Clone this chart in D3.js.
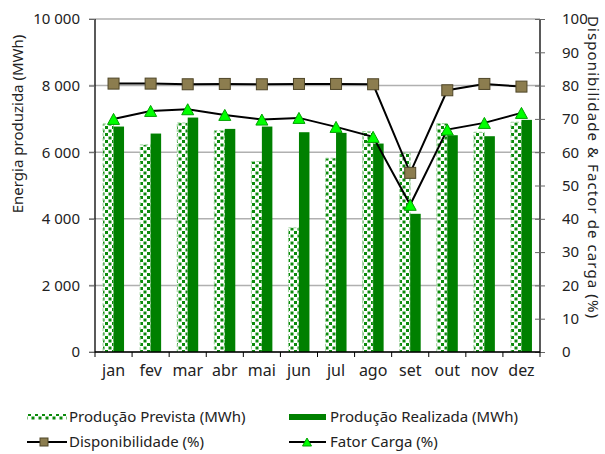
<!DOCTYPE html>
<html>
<head>
<meta charset="utf-8">
<script src="https://cdn.jsdelivr.net/npm/d3@7"></script>
<style>
  html, body { margin: 0; padding: 0; background: #fff; }
  svg { display: block; font-family: "Noto Sans", "Open Sans", sans-serif; }
</style>
</head>
<body>
<svg id="chart" width="605" height="454"></svg>
<script>
// Monthly energy data (MWh) and availability / load factor (%)
const months = ["jan", "fev", "mar", "abr", "mai", "jun", "jul", "ago", "set", "out", "nov", "dez"];
const producaoPrevista = [6850, 6220, 6880, 6650, 5720, 3730, 5820, 6620, 5980, 6860, 6600, 6900];
const producaoRealizada = [6770, 6560, 7040, 6700, 6770, 6600, 6580, 6260, 4150, 6510, 6480, 6970];
const disponibilidade = [80.6, 80.6, 80.4, 80.5, 80.4, 80.5, 80.5, 80.4, 53.8, 78.6, 80.5, 79.7];
const fatorCarga = [70.0, 72.4, 72.9, 71.2, 69.8, 70.3, 67.6, 64.6, 44.2, 66.8, 68.8, 71.8];
const leftTicks = [0, 2000, 4000, 6000, 8000, 10000];
const rightTicks = [0, 10, 20, 30, 40, 50, 60, 70, 80, 90, 100];

const svg = d3.select("#chart");
const plotLeft = 95, plotRight = 540, plotTop = 19, plotBottom = 352;

const fmt = d => d3.format(",")(d).replace(/,/g, " ");

const x = d3.scaleBand().domain(months).range([plotLeft, plotRight]).paddingInner(0).paddingOuter(0);
const yL = d3.scaleLinear().domain([0, 10000]).range([plotBottom, plotTop]);
const yR = d3.scaleLinear().domain([0, 100]).range([plotBottom, plotTop]);
const sub = d3.scaleBand().domain(["prev", "real"]).range([-10.5, 10.5]);

// dotted fill for the planned production bars
const defs = svg.append("defs");
const pat = defs.append("pattern").attr("id", "dots")
  .attr("patternUnits", "userSpaceOnUse").attr("width", 7).attr("height", 7);
pat.append("rect").attr("width", 7).attr("height", 7).attr("fill", "#fff");
pat.append("rect").attr("x", 0).attr("y", 0).attr("width", 3).attr("height", 3).attr("fill", "#0a8a0a");
pat.append("rect").attr("x", 3.5).attr("y", 3.5).attr("width", 3).attr("height", 3).attr("fill", "#0a8a0a");

// gridlines
svg.append("g").selectAll("line").data(leftTicks).join("line")
  .attr("x1", plotLeft - 6).attr("x2", plotRight)
  .attr("y1", d => yL(d)).attr("y2", d => yL(d))
  .attr("stroke", "#b0b0b0").attr("stroke-width", 1.5);

// bars
const bars = svg.append("g");
bars.selectAll("rect.prev").data(months).join("rect").attr("class", "prev")
  .attr("x", d => x(d) + x.bandwidth() / 2 + sub("prev"))
  .attr("width", sub.bandwidth())
  .attr("y", (d, i) => yL(producaoPrevista[i]))
  .attr("height", (d, i) => yL(0) - yL(producaoPrevista[i]))
  .attr("fill", "url(#dots)")
  .attr("stroke", "#9fd49f").attr("stroke-width", 1).attr("stroke-dasharray", "3,2");
bars.selectAll("rect.real").data(months).join("rect").attr("class", "real")
  .attr("x", d => x(d) + x.bandwidth() / 2 + sub("real"))
  .attr("width", sub.bandwidth())
  .attr("y", (d, i) => yL(producaoRealizada[i]))
  .attr("height", (d, i) => yL(0) - yL(producaoRealizada[i]))
  .attr("fill", "#008000");

// axes
const axisL = svg.append("g").attr("transform", `translate(${plotLeft},0)`)
  .call(d3.axisLeft(yL).tickValues(leftTicks).tickFormat(fmt).tickSize(6).tickPadding(9));
const axisR = svg.append("g").attr("transform", `translate(${plotRight},0)`)
  .call(d3.axisRight(yR).tickValues(rightTicks).tickSize(5).tickPadding(17));
axisR.selectAll(".tick line").attr("x1", -5);
const axisB = svg.append("g").attr("transform", `translate(0,${plotBottom})`)
  .call(d3.axisBottom(x).tickSize(0).tickPadding(13));
// boundary ticks on the category axis
axisB.append("g").selectAll("line").data(d3.range(months.length + 1)).join("line")
  .attr("x1", i => plotLeft + i * x.step()).attr("x2", i => plotLeft + i * x.step())
  .attr("y1", 0).attr("y2", 5).attr("stroke", "#000");

[axisL, axisR, axisB].forEach(a => {
  a.select(".domain").attr("stroke", "#000").attr("stroke-width", 1.3);
  a.selectAll(".tick line").attr("stroke", "#666");
  a.selectAll("text").attr("font-size", 15).attr("fill", "#222")
    .attr("font-family", "'Noto Sans', 'Open Sans', sans-serif");
});
axisB.selectAll("text").attr("font-size", 16);
axisL.select(".domain").attr("d", `M0,${plotTop}V${plotBottom}`);
axisR.select(".domain").attr("d", `M0,${plotTop}V${plotBottom}`);
axisB.select(".domain").attr("d", `M${plotLeft},0H${plotRight}`);

// lines
const line = d3.line().x((d, i) => x(months[i]) + x.bandwidth() / 2).y(d => yR(d));
svg.append("path").datum(disponibilidade).attr("d", line)
  .attr("fill", "none").attr("stroke", "#000").attr("stroke-width", 2);
svg.append("path").datum(fatorCarga).attr("d", line)
  .attr("fill", "none").attr("stroke", "#000").attr("stroke-width", 2);

const sq = 11;
svg.append("g").selectAll("rect").data(disponibilidade).join("rect")
  .attr("x", (d, i) => x(months[i]) + x.bandwidth() / 2 - sq / 2)
  .attr("y", d => yR(d) - sq / 2)
  .attr("width", sq).attr("height", sq)
  .attr("fill", "#8c7d4f").attr("stroke", "#4f4628").attr("stroke-width", 1);

const tri = (cx, cy, w, h) => `M${cx},${cy - h / 2}L${cx + w / 2},${cy + h / 2}L${cx - w / 2},${cy + h / 2}Z`;
svg.append("g").selectAll("path").data(fatorCarga).join("path")
  .attr("d", (d, i) => tri(x(months[i]) + x.bandwidth() / 2, yR(d), 12, 11))
  .attr("fill", "#00ff00").attr("stroke", "#00a000").attr("stroke-width", 1);

// axis titles
svg.append("text").attr("transform", "translate(23,124) rotate(-90)")
  .attr("text-anchor", "middle").attr("font-size", 15).attr("fill", "#222")
  .text("Energia produzida  (MWh)");
svg.append("text").attr("transform", "translate(588,167) rotate(90)")
  .attr("text-anchor", "middle").attr("font-size", 15).attr("fill", "#222")
  .attr("textLength", 302).attr("lengthAdjust", "spacing")
  .text("Disponibilidade & Factor de carga (%)");

// legend
const lg = svg.append("g").attr("font-size", 15).attr("fill", "#222");
lg.append("rect").attr("x", 27).attr("y", 414).attr("width", 40).attr("height", 6).attr("fill", "url(#dots)");
lg.append("text").attr("x", 69).attr("y", 422).text("Produção Prevista (MWh)");
lg.append("rect").attr("x", 289).attr("y", 414).attr("width", 37).attr("height", 6).attr("fill", "#008000");
lg.append("text").attr("x", 330).attr("y", 422).text("Produção Realizada (MWh)");
lg.append("line").attr("x1", 27).attr("x2", 67).attr("y1", 442).attr("y2", 442).attr("stroke", "#000").attr("stroke-width", 2);
lg.append("rect").attr("x", 40).attr("y", 438).attr("width", 8).attr("height", 8)
  .attr("fill", "#8c7d4f").attr("stroke", "#4f4628");
lg.append("text").attr("x", 69).attr("y", 447).text("Disponibilidade (%)");
lg.append("line").attr("x1", 289).attr("x2", 326).attr("y1", 442).attr("y2", 442).attr("stroke", "#000").attr("stroke-width", 2);
lg.append("path").attr("d", tri(307, 442, 9, 8)).attr("fill", "#00ff00").attr("stroke", "#00a000");
lg.append("text").attr("x", 330).attr("y", 447).text("Fator Carga (%)");
</script>
</body>
</html>
